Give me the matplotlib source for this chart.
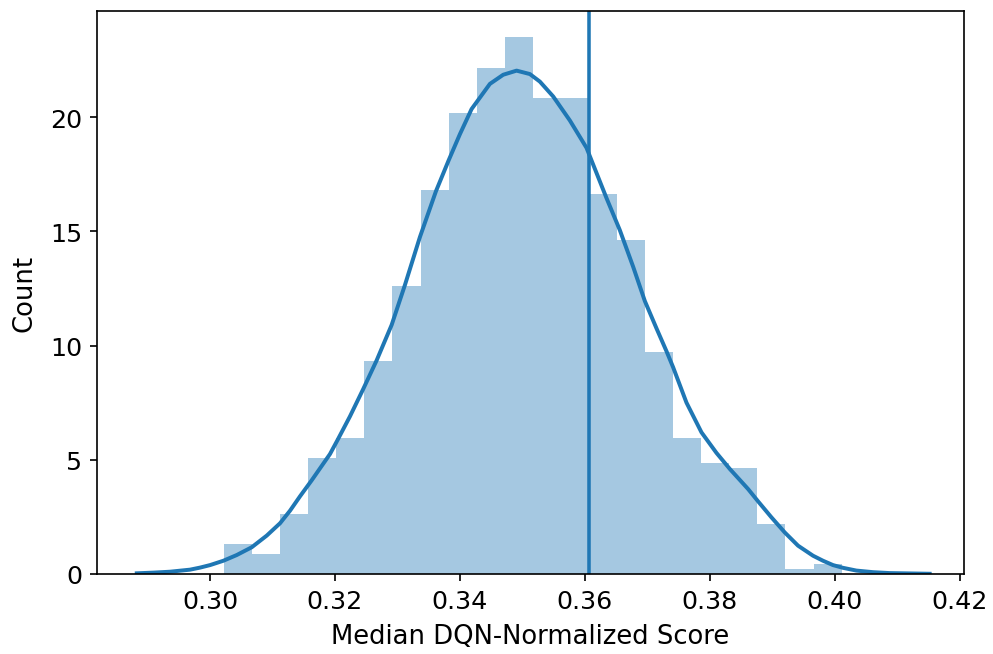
import matplotlib.pyplot as plt
import numpy as np

# histogram (density)
bin_start = 0.30224
bin_stop = 0.40111
heights = [1.30, 0.86, 2.63, 5.06, 5.95, 9.32, 12.62, 16.82, 20.16, 22.16, 23.49,
           20.82, 20.82, 16.63, 14.62, 9.73, 5.97, 4.84, 4.62, 2.19, 0.21, 0.43]

# kde curve points
kde_x = [0.28827, 0.29093, 0.29360, 0.29680, 0.29840, 0.30000, 0.30213, 0.30427,
         0.30667, 0.30907, 0.31120, 0.31280, 0.31440, 0.31627, 0.31920, 0.32048,
         0.32240, 0.32453, 0.32667, 0.32907, 0.33120, 0.33360, 0.33616, 0.33819,
         0.34000, 0.34187, 0.34480, 0.34693, 0.34907, 0.35120, 0.35280, 0.35493,
         0.35760, 0.36027, 0.36347, 0.36560, 0.36773, 0.36960, 0.37147, 0.37307,
         0.37413, 0.37627, 0.37867, 0.38107, 0.38320, 0.38480, 0.38613, 0.38773,
         0.38987, 0.39200, 0.39413, 0.39653, 0.39813, 0.39973, 0.40133, 0.40347,
         0.40613, 0.40880, 0.41520]
kde_y = [0.03, 0.06, 0.10, 0.19, 0.28, 0.39, 0.58, 0.83,
         1.17, 1.68, 2.22, 2.77, 3.40, 4.10, 5.25, 5.90,
         6.90, 8.10, 9.35, 10.90, 12.65, 14.75, 16.75, 18.10,
         19.25, 20.35, 21.45, 21.85, 22.03, 21.88, 21.55, 20.90,
         19.85, 18.65, 16.45, 15.05, 13.45, 11.95, 10.75, 9.75,
         9.05, 7.50, 6.20, 5.30, 4.60, 4.12, 3.72, 3.18,
         2.48, 1.82, 1.24, 0.80, 0.58, 0.39, 0.27, 0.15,
         0.08, 0.04, 0.01]

median_score = 0.3606

fig = plt.figure(figsize=(993 / 150, 655 / 150), dpi=150)
ax = fig.add_axes([97 / 993, 80 / 655, 867 / 993, 563 / 655])

edges = np.linspace(bin_start, bin_stop, len(heights) + 1)
ax.bar(edges[:-1], heights, width=np.diff(edges), align='edge',
       color='C0', alpha=0.4, linewidth=0)
ax.plot(kde_x, kde_y, color='C0', linewidth=1.9, solid_joinstyle='round')
ax.axvline(median_score, color='C0', linewidth=1.7)

ax.set_xlim(0.2819, 0.4207)
ax.set_ylim(0, 24.64)
ax.set_xticks([0.30, 0.32, 0.34, 0.36, 0.38, 0.40, 0.42])
ax.set_yticks([0, 5, 10, 15, 20])
ax.tick_params(labelsize=12.2)
ax.set_xlabel('Median DQN-Normalized Score', fontsize=12.4, labelpad=5)
ax.set_ylabel('Count', fontsize=12.4, labelpad=6)

fig.savefig('out.png', dpi=150)
